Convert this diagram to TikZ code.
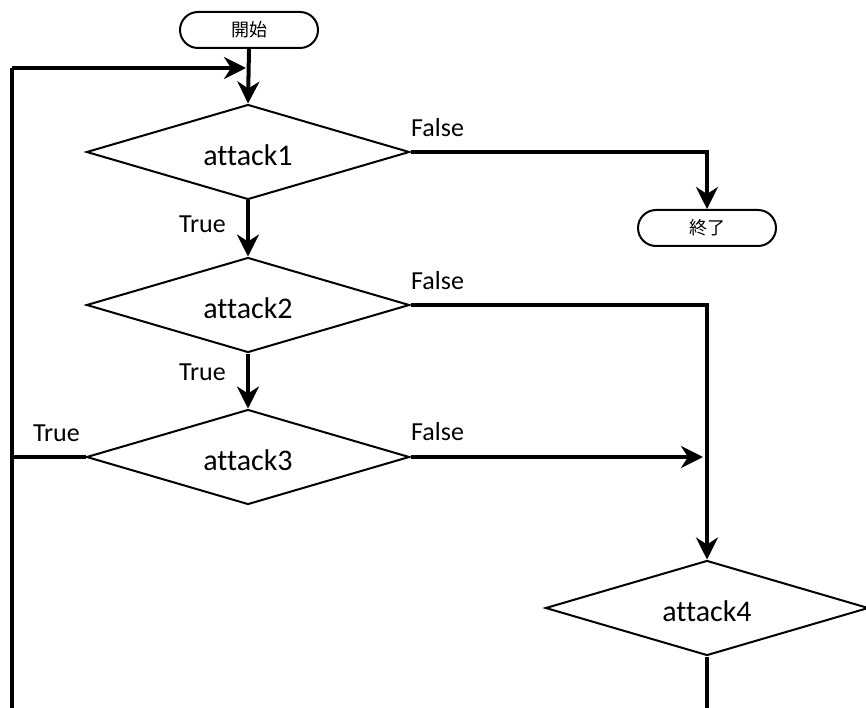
\documentclass[tikz,border=0pt]{standalone}
\usepackage{fontspec}
\setmainfont[Ligatures={NoCommon}]{Carlito}
\newfontfamily\cjkfont{Noto Sans CJK JP}
\usetikzlibrary{shapes.geometric,arrows.meta}

\tikzset{
  terminal/.style={draw, line width=2pt, rounded corners=18pt, minimum width=138pt,
    minimum height=36pt, inner sep=0pt, fill=white, font=\cjkfont\fontsize{18}{18}\selectfont},
  decision/.style={draw, diamond, line width=2pt, minimum width=323pt, minimum height=95pt,
    inner sep=0pt, fill=white,
    label={[font=\fontsize{30}{30}\selectfont, inner sep=0pt, yshift=-3pt]center:#1}},
  flow/.style={line width=4pt, -{Stealth[length=22pt,width=22pt,inset=7pt]}},
  flowline/.style={line width=4pt},
  lbl/.style={font=\fontsize{26}{26}\selectfont, inner sep=0pt}
}

\begin{document}
\begin{tikzpicture}[x=1pt, y=-1pt]
  \useasboundingbox (0,0) rectangle (866,708);

  % nodes
  \node[terminal] (start) at (249,30) {開始};
  \node[decision=attack1] (a1) at (248,152) {};
  \node[decision=attack2] (a2) at (248,305) {};
  \node[decision=attack3] (a3) at (248,457) {};
  \node[decision=attack4] (a4) at (707,608) {};
  \node[terminal] (end) at (707,228) {終了};

  % helper points
  \coordinate (loopTop) at (12,68);
  \coordinate (loopJoin) at (248,68);
  \coordinate (loopBottom) at (12,708);
  \coordinate (f1) at (707,152);
  \coordinate (f2) at (707,305);
  \coordinate (f3) at (707,457);
  \coordinate (a4out) at (707,708);

  % main trunk
  \draw[flow] (start.south) -- (a1.north);
  \draw[flow] (a1.south) -- (a2.north);
  \draw[flow] (a2.south) -- (a3.north);

  % false branches
  \draw[flow] (a1.east) -- (f1) -- (end.north);
  \draw[flow] (a2.east) -- (f2) -- (a4.north);
  \draw[flow, shorten >=4pt] (a3.east) -- (f3);

  % loop back
  \draw[flowline] (a3.west) -- (12,457);
  \draw[flowline] (loopBottom) -- (loopTop);
  \draw[flow, shorten >=2pt] (loopTop) -- (loopJoin);
  \draw[flowline] (a4.south) -- (a4out);

  % labels
  \node[lbl, anchor=base west] at (411,137) {False};
  \node[lbl, anchor=base west] at (411,289) {False};
  \node[lbl, anchor=base west] at (411,440) {False};
  \node[lbl, anchor=base east] at (226,233) {True};
  \node[lbl, anchor=base east] at (226,380) {True};
  \node[lbl, anchor=base east] at (80,441) {True};
\end{tikzpicture}
\end{document}
